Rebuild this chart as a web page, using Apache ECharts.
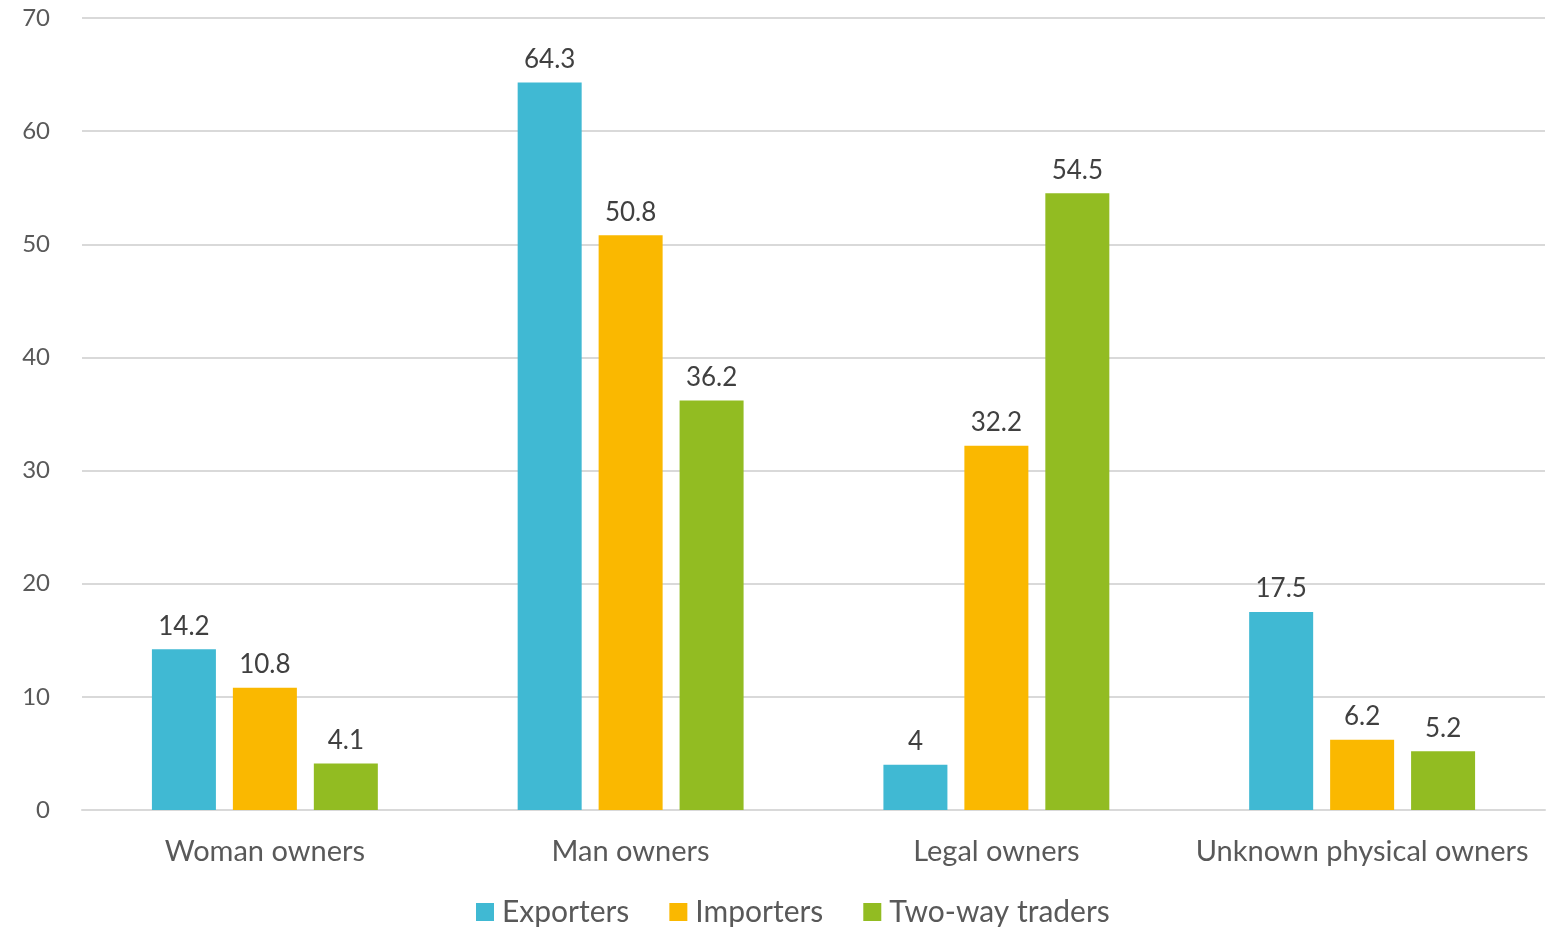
<!DOCTYPE html>
<html><head><meta charset="utf-8">
<script src="https://cdn.jsdelivr.net/npm/echarts@6/dist/echarts.min.js"></script>
<style>html,body{margin:0;padding:0;background:#fff}#c{width:1551px;height:930px}</style>
</head><body><div id="c"></div>
<script>
const categories = ['Woman owners', 'Man owners', 'Legal owners', 'Unknown physical owners'];
const seriesNames = ['Exporters', 'Importers', 'Two-way traders'];
const exporters = [14.2, 64.3, 4, 17.5];
const importers = [10.8, 50.8, 32.2, 6.2];
const twoWay = [4.1, 36.2, 54.5, 5.2];
const colors = ['#40B9D3', '#FAB800', '#92BC22'];
const yTicks = {min: 0, max: 70, interval: 10};

const font = 'Lato, "Open Sans", sans-serif';
const chart = echarts.init(document.getElementById('c'));
const mk = (name, data, color) => ({
  name, type: 'bar', data, barWidth: 64, barGap: '26.5%',
  itemStyle: {color},
  label: {show: true, position: 'top', distance: 10, color: '#404040', fontSize: 26, fontFamily: font}
});
chart.setOption({
  animation: false,
  textStyle: {fontFamily: font},
  grid: {left: 82, right: 6, top: 18, bottom: 120, containLabel: false},
  legend: {
    bottom: -2, left: 471, itemWidth: 18, itemHeight: 18, itemGap: 40,
    icon: 'rect',
    textStyle: {fontSize: 30, color: '#595959', fontFamily: font, padding: [0, 0, 0, 3]},
    data: seriesNames
  },
  xAxis: {
    type: 'category', data: categories,
    axisLine: {show: true, lineStyle: {color: '#d9d9d9', width: 2}},
    axisTick: {show: false},
    axisLabel: {fontSize: 29, color: '#595959', margin: 27, interval: 0, fontFamily: font}
  },
  yAxis: {
    type: 'value', min: yTicks.min, max: yTicks.max, interval: yTicks.interval,
    axisLine: {show: false}, axisTick: {show: false},
    splitLine: {lineStyle: {color: '#d9d9d9', width: 2}},
    axisLabel: {fontSize: 24, color: '#595959', margin: 32, fontFamily: font}
  },
  series: [mk(seriesNames[0], exporters, colors[0]), mk(seriesNames[1], importers, colors[1]), mk(seriesNames[2], twoWay, colors[2])]
});
</script></body></html>
